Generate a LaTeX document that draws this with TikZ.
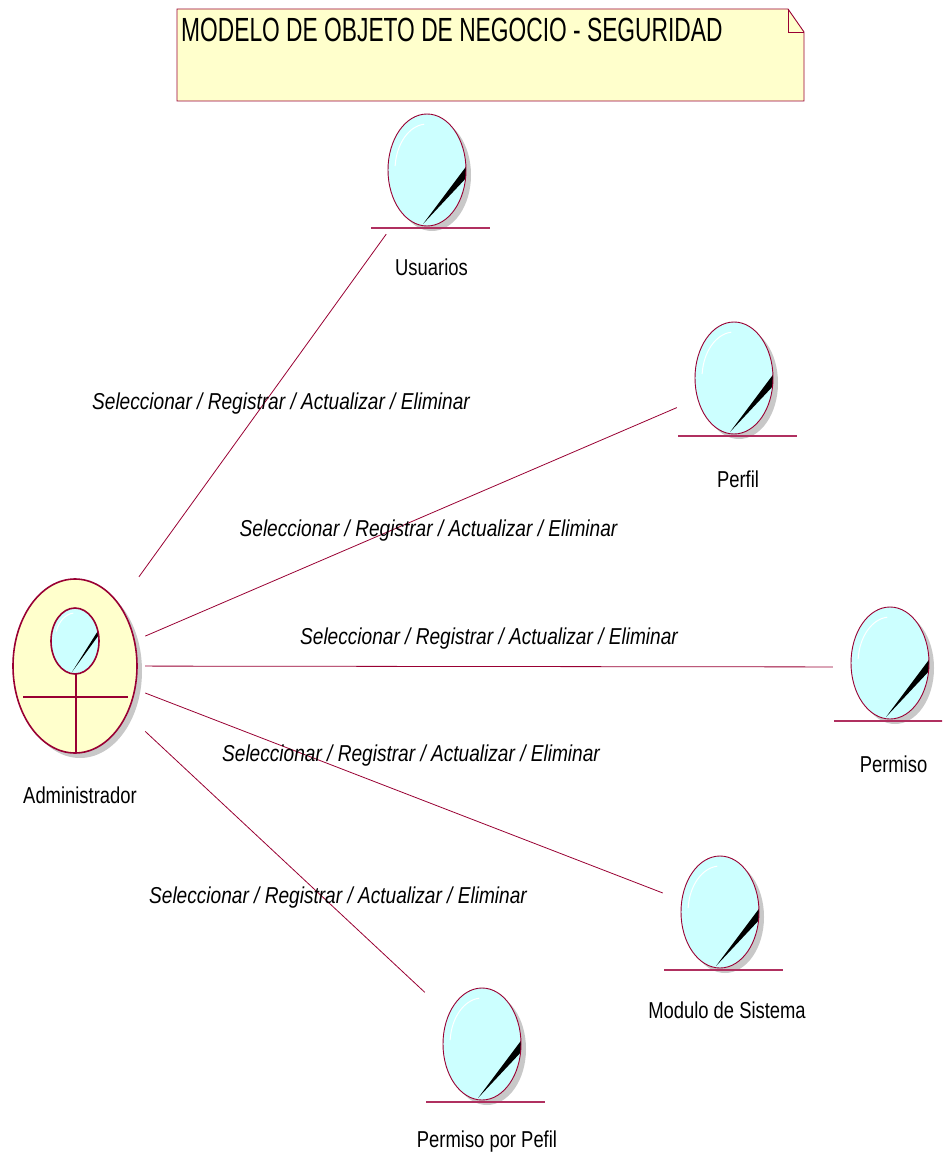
\documentclass[tikz,border=0pt]{standalone}
\usepackage{fontspec}
\setmainfont[FakeStretch=0.80]{Liberation Sans}
\newfontfamily\titlefont[FakeStretch=0.68]{Liberation Sans}
\newfontfamily\labfont[FakeStretch=0.83]{Liberation Sans}
\definecolor{maroon}{HTML}{990033}
\definecolor{uline}{HTML}{B03060}
\definecolor{entfill}{HTML}{CCFFFF}
\definecolor{notefill}{HTML}{FFFFCC}
\definecolor{shadowc}{HTML}{C8C8C8}
\newcommand\drawentity[2]{%
  \begin{scope}[shift={(#1,#2)}]
    \fill[shadowc] (5,5) ellipse [x radius=39, y radius=56];
    \fill[entfill] (0,0) ellipse [x radius=39, y radius=56];
    \begin{scope}
      \clip (0,0) ellipse [x radius=39, y radius=56];
      \fill[black] (-4,54) -- (41,-6) -- (41,6) -- cycle;
    \end{scope}
    \draw[white, line width=1pt] (-2.8,-45.8) arc [start angle=265, end angle=185, x radius=32, y radius=46];
    \draw[maroon, line width=0.9pt] (0,0) ellipse [x radius=39, y radius=56];
    \draw[uline, line width=1.3pt] (-56,58) -- (63,58);
  \end{scope}}
\tikzset{
  ebox/.style={rectangle, draw=none, inner sep=0pt, minimum width=119pt, minimum height=120pt},
  abox/.style={rectangle, draw=none, inner sep=0pt, minimum width=140pt, minimum height=178pt},
  conn/.style={draw=maroon, line width=0.8pt},
  lbl/.style={anchor=base, inner sep=0pt, font=\fontsize{23}{27}\selectfont},
  clbl/.style={anchor=base, inner sep=0pt, font=\labfont\fontsize{23}{27}\selectfont\itshape},
}
\begin{document}
\begin{tikzpicture}[x=1pt, y=-1pt]
\clip (0,0) rectangle (942,1158);
\fill[white] (0,0) rectangle (942,1158);
% note
\filldraw[fill=notefill, draw=maroon, line width=0.9pt]
  (177,9) -- (788,9) -- (804,32) -- (804,101) -- (177,101) -- cycle;
\draw[maroon, line width=0.9pt] (788,9) -- (788,32) -- (804,32);
\node[anchor=base west, inner sep=0pt, font=\titlefont\fontsize{33.5}{38}\selectfont] (title) at (181,42) {MODELO DE OBJETO DE NEGOCIO - SEGURIDAD};
% actor
\fill[shadowc] (80,671) ellipse [x radius=62, y radius=87];
\filldraw[fill=notefill, draw=maroon, line width=1.6pt] (75,666) ellipse [x radius=62, y radius=87];
\begin{scope}[shift={(75,641)}]
  \fill[entfill] (0,0) ellipse [x radius=24, y radius=33];
  \begin{scope}
    \clip (0,0) ellipse [x radius=24, y radius=33];
    \fill[black] (-3,31) -- (26,-15) -- (26,-9) -- cycle;
  \end{scope}
  \draw[white, line width=1pt] (-1.7,-27.9) arc [start angle=265, end angle=200, x radius=20, y radius=28];
  \draw[maroon, line width=1.6pt] (0,0) ellipse [x radius=24, y radius=33];
\end{scope}
\draw[maroon, line width=1.6pt] (76,674) -- (76,753);
\draw[maroon, line width=1.6pt] (23,697) -- (128,697);
\node[abox] (adm) at (75,666) {};
\node[lbl] (admlbl) at (80,803) {Administrador};
% entities
\drawentity{427}{170}
\node[ebox] (usu) at (429.5,174) {};
\node[lbl] (usulbl) at (431.5,275) {Usuarios};
\drawentity{734}{378}
\node[ebox] (per) at (736.5,382) {};
\node[lbl] (perlbl) at (738,487) {Perfil};
\drawentity{890}{663}
\node[ebox] (prm) at (892.5,667) {};
\node[lbl] (prmlbl) at (893.5,772) {Permiso};
\drawentity{720}{912}
\node[ebox] (mod) at (722.5,916) {};
\node[lbl] (modlbl) at (727,1018) {Modulo de Sistema};
\drawentity{482}{1044}
\node[ebox] (ppp) at (484.5,1048) {};
\node[lbl] (ppplbl) at (487,1147) {Permiso por Pefil};
% connectors
\draw[conn] (adm) -- (usu);
\draw[conn] (adm) -- (per);
\draw[conn] (adm) -- (prm);
\draw[conn] (adm) -- (mod);
\draw[conn] (adm) -- (ppp);
\node[clbl] (l1) at (281,409) {Seleccionar / Registrar / Actualizar / Eliminar};
\node[clbl] (l2) at (428.5,536.5) {Seleccionar / Registrar / Actualizar / Eliminar};
\node[clbl] (l3) at (489,644.5) {Seleccionar / Registrar / Actualizar / Eliminar};
\node[clbl] (l4) at (411,761.5) {Seleccionar / Registrar / Actualizar / Eliminar};
\node[clbl] (l5) at (338,903.5) {Seleccionar / Registrar / Actualizar / Eliminar};
\end{tikzpicture}
\end{document}
